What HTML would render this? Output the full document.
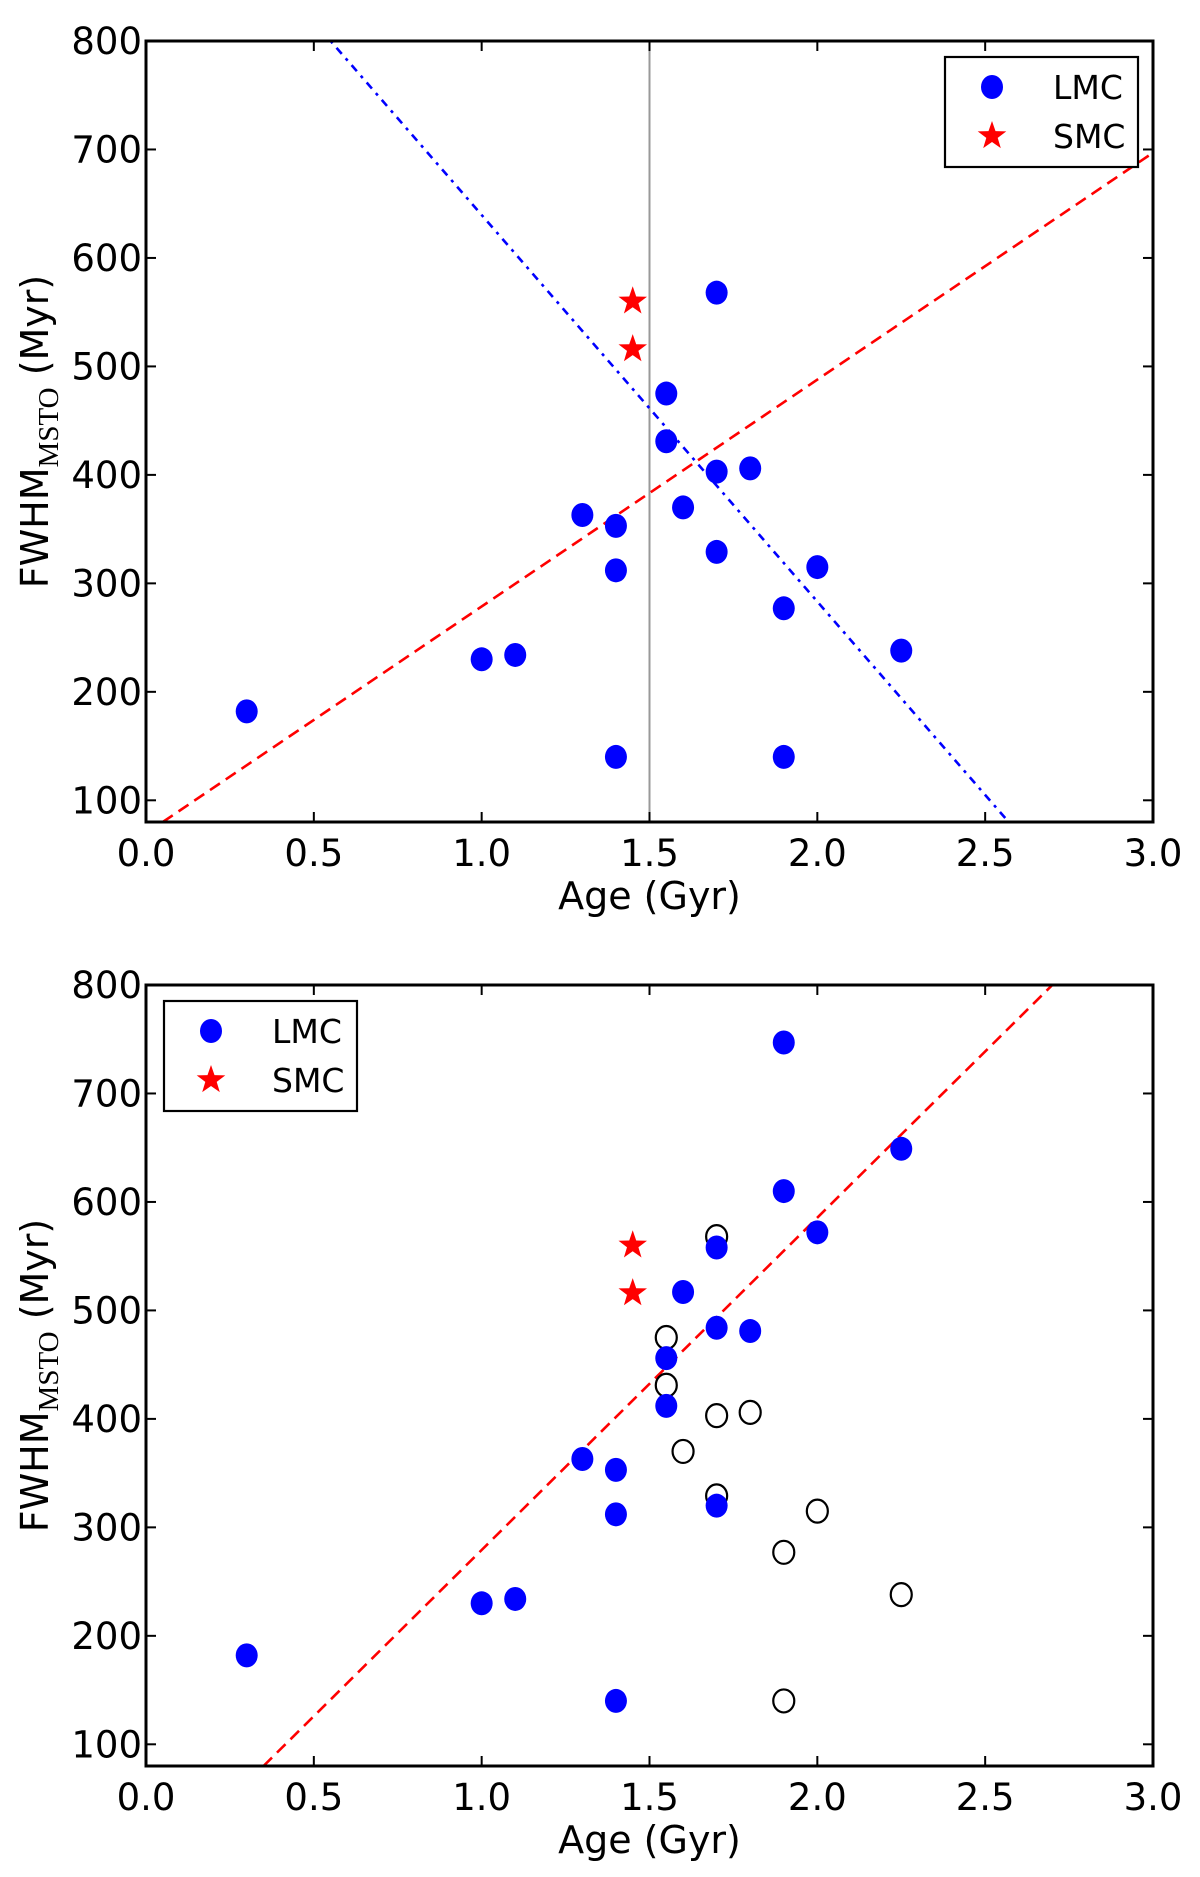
<!DOCTYPE html>
<html><head><meta charset="utf-8"><style>
html,body{margin:0;padding:0;background:#fff;}
svg{display:block;font-family:"DejaVu Sans","Liberation Sans",sans-serif;}
</style></head><body>
<svg id="chart" width="1200" height="1877" viewBox="0 0 1200 1877" xmlns="http://www.w3.org/2000/svg"></svg>
<script>
const xTicks=[0.0,0.5,1.0,1.5,2.0,2.5,3.0];
const xTickLabels=["0.0","0.5","1.0","1.5","2.0","2.5","3.0"];
const yTicks=[100,200,300,400,500,600,700,800];
const topLmcAge=[0.3,1.0,1.1,1.3,1.4,1.4,1.4,1.55,1.55,1.6,1.7,1.7,1.7,1.8,1.9,1.9,2.0,2.25];
const topLmcFwhm=[182,230,234,363,353,312,140,475,431,370,568,403,329,406,277,140,315,238];
const smcAge=[1.45,1.45];
const smcFwhm=[560,516];
const topRedFitX=[0.05,3.0];
const topRedFitY=[80,697];
const topBlueFitX=[0.55,2.57];
const topBlueFitY=[800,80];
const refAge=1.5;
const botLmcAge=[0.3,1.0,1.1,1.3,1.4,1.4,1.4,1.55,1.55,1.6,1.7,1.7,1.7,1.8,1.9,1.9,2.0,2.25];
const botLmcFwhm=[182,230,234,363,353,312,140,456,412,517,558,484,320,481,747,610,572,649];
const openAge=[1.55,1.55,1.6,1.7,1.7,1.7,1.8,1.9,1.9,2.0,2.25];
const openFwhm=[475,431,370,568,403,329,406,277,140,315,238];
const botRedFitX=[0.35,2.7];
const botRedFitY=[80,800];

const NS="http://www.w3.org/2000/svg";
const svg=document.getElementById('chart');
function mk(tag,attrs,parent){const e=document.createElementNS(NS,tag);for(const k in attrs)e.setAttribute(k,attrs[k]);(parent||svg).appendChild(e);return e;}
function starPts(cx,cy,r){let p=[];for(let i=0;i<10;i++){const a=-Math.PI/2+i*Math.PI/5;const rr=i%2?r*0.4:r;p.push((cx+rr*Math.cos(a)).toFixed(1)+','+(cy+rr*Math.sin(a)).toFixed(1));}return p.join(' ');}

function panel(top,opts){
  const L=146,R=1153,T=top,B=top+781;
  const xs=v=>L+(v-0)/(3-0)*(R-L);
  const ys=v=>B-(v-80)/(800-80)*(B-T);
  const g=mk('g',{});
  
  
  const clip=mk('clipPath',{id:'clip'+top},g);
  mk('rect',{x:L,y:T,width:R-L,height:B-T},clip);
  const plot=mk('g',{'clip-path':'url(#clip'+top+')'},g);
  if(opts.vline){const v=mk('line',{x1:xs(refAge),x2:xs(refAge),y1:T,y2:B,stroke:'#999',"stroke-width":2},plot);
    
    }
  const rl=mk('line',{x1:xs(opts.redX[0]),y1:ys(opts.redY[0]),x2:xs(opts.redX[1]),y2:ys(opts.redY[1]),stroke:'#f00','stroke-width':2.6,'stroke-dasharray':'12,7'},plot);
  
  
  if(opts.blueX){const bl=mk('line',{x1:xs(opts.blueX[0]),y1:ys(opts.blueY[0]),x2:xs(opts.blueX[1]),y2:ys(opts.blueY[1]),stroke:'#00f','stroke-width':2.6,'stroke-dasharray':'3,6,8,6'},plot);
    
    }
  if(opts.openX){opts.openX.forEach((a,i)=>{const c=mk('ellipse',{cx:xs(a),cy:ys(opts.openY[i]),rx:10.5,ry:11.5,fill:'none',stroke:'#000','stroke-width':2.2},plot);
    
    });}
  opts.lmcX.forEach((a,i)=>{const c=mk('ellipse',{cx:xs(a),cy:ys(opts.lmcY[i]),rx:11,ry:12,fill:'#00f'},plot);
    
    });
  smcAge.forEach((a,i)=>{const s=mk('polygon',{points:starPts(xs(a),ys(smcFwhm[i]),15),fill:'#f00'},plot);
    
    });
  mk('rect',{x:L,y:T,width:R-L,height:B-T,fill:'none',stroke:'#000','stroke-width':3},g);
  xTicks.forEach((v,i)=>{const x=xs(v);
    mk('line',{x1:x,x2:x,y1:B,y2:B-10,stroke:'#000','stroke-width':2},g);
    mk('line',{x1:x,x2:x,y1:T,y2:T+10,stroke:'#000','stroke-width':2},g);
    const t=mk('text',{x:x,y:B+44,'text-anchor':'middle','font-size':37},g);t.textContent=xTickLabels[i];
    
    });
  yTicks.forEach(v=>{const y=ys(v);
    mk('line',{x1:L,x2:L+10,y1:y,y2:y,stroke:'#000','stroke-width':2},g);
    mk('line',{x1:R,x2:R-10,y1:y,y2:y,stroke:'#000','stroke-width':2},g);
    const t=mk('text',{x:L-4,y:y+13,'text-anchor':'end','font-size':37},g);t.textContent=String(v);
    
    });
  const xl=mk('text',{x:(L+R)/2,y:B+87,'text-anchor':'middle','font-size':38},g);xl.textContent='Age (Gyr)';
  
  
  const cy=(T+B)/2;
  const yl=mk('text',{x:0,y:0,'text-anchor':'middle','font-size':38,transform:`translate(48,${cy}) rotate(-90)`},g);
  yl.innerHTML='FWHM<tspan font-family="Liberation Serif, serif" font-size="29" dy="10">MSTO</tspan><tspan dy="-10"> (Myr)</tspan>';
  
  
  const lg=mk('g',{},g);
  
  
  const lx=opts.legX,ly=T+opts.legDy;
  mk('rect',{x:lx,y:ly,width:193,height:110,fill:'#fff',stroke:'#000','stroke-width':2.2},lg);
  const e1=mk('ellipse',{cx:lx+47,cy:ly+30,rx:11,ry:12,fill:'#00f'},lg);
  
  
  const s1=mk('polygon',{points:starPts(lx+47,ly+79,15),fill:'#f00'},lg);
  
  
  const t1=mk('text',{x:lx+108,y:ly+42,'font-size':33},lg);t1.textContent='LMC';
  
  
  const t2=mk('text',{x:lx+108,y:ly+91,'font-size':33},lg);t2.textContent='SMC';
  
  
}
panel(41,{name:'top-panel',vline:true,redX:topRedFitX,redY:topRedFitY,blueX:topBlueFitX,blueY:topBlueFitY,lmcX:topLmcAge,lmcY:topLmcFwhm,legX:945,legDy:16});
panel(985,{name:'bottom-panel',vline:false,redX:botRedFitX,redY:botRedFitY,openX:openAge,openY:openFwhm,lmcX:botLmcAge,lmcY:botLmcFwhm,legX:164,legDy:16});
</script>
</body></html>
